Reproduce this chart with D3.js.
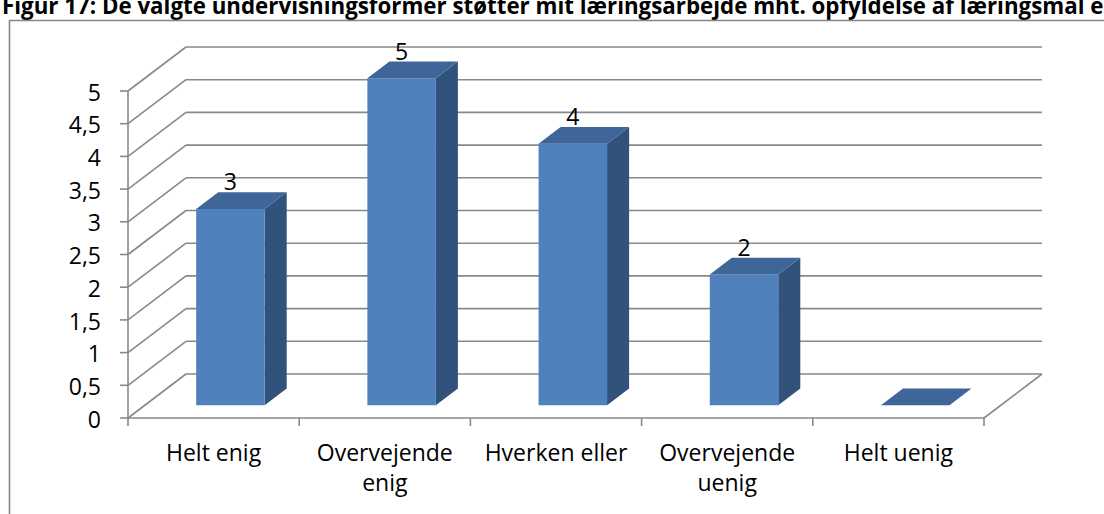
<!DOCTYPE html>
<html>
<head>
<meta charset="utf-8">
<script src="https://cdn.jsdelivr.net/npm/d3@7/dist/d3.min.js"></script>
<style>
  html, body { margin: 0; padding: 0; background: #fff; overflow: hidden; }
  svg { display: block; }
  text { font-family: "Open Sans", "Liberation Sans", sans-serif; fill: #000; }
</style>
</head>
<body>
<svg id="chart" width="1104" height="514"></svg>
<script>
// ---- data ----
const titleText = "Figur 17: De valgte undervisningsformer støtter mit læringsarbejde mht. opfyldelse af læringsmål e";
const categories = ["Helt enig", "Overvejende enig", "Hverken eller", "Overvejende uenig", "Helt uenig"];
const values = [3, 5, 4, 2, 0];
const tickValues = [0, 0.5, 1, 1.5, 2, 2.5, 3, 3.5, 4, 4.5, 5];
const tickLabels = ["0", "0,5", "1", "1,5", "2", "2,5", "3", "3,5", "4", "4,5", "5"];

// ---- layout ----
const W = 1104, H = 514;
const svg = d3.select("#chart");
const front = { left: 128, right: 984, bottom: 418, top: 91 };
const D = { x: 58, y: -44 };         // depth vector of the 3D box
const f1 = 0.29, f2 = 0.67;          // bar front / back depth fractions
const barFrac = 0.40;
const gridColor = "#898989";
const colFront = "#4F81BD", colTop = "#3E6698", colSide = "#31527B";
const fs = "23px";

const x = d3.scaleBand().domain(categories).range([front.left, front.right]).paddingInner(0).paddingOuter(0);
const y = d3.scaleLinear().domain([0, 5]).range([front.bottom, front.top]);

// title
const title = svg.append("text")
  .attr("x", 2).attr("y", 14)
  .style("font-weight", 700).style("font-size", "22px")
  .text(titleText);
(function fit() {
  const len = title.node().getComputedTextLength();
  const target = 1102;
  title.style("font-size", (22 * target / len).toFixed(2) + "px");
})();

// frame
svg.append("path")
  .attr("d", `M${W + 5},20.5 H9.5 V${H + 5}`)
  .attr("fill", "none").attr("stroke", "#868686").attr("stroke-width", 1.6);

// back wall gridlines + side wall diagonals
const g = svg.append("g");
tickValues.forEach(v => {
  const yf = y(v);
  g.append("line")
    .attr("x1", front.left).attr("y1", yf)
    .attr("x2", front.left + D.x).attr("y2", yf + D.y)
    .attr("stroke", gridColor).attr("stroke-width", 1.6);
  g.append("line")
    .attr("x1", front.left + D.x).attr("y1", yf + D.y)
    .attr("x2", front.right + D.x).attr("y2", yf + D.y)
    .attr("stroke", gridColor).attr("stroke-width", 1.6);
});
// floor right edge
g.append("line")
  .attr("x1", front.right).attr("y1", y(0))
  .attr("x2", front.right + D.x).attr("y2", y(0) + D.y)
  .attr("stroke", gridColor).attr("stroke-width", 1.6);

// front value axis
g.append("line")
  .attr("x1", front.left).attr("y1", y(5)).attr("x2", front.left).attr("y2", y(0))
  .attr("stroke", gridColor).attr("stroke-width", 1.6);
tickValues.forEach((v, i) => {
  g.append("line")
    .attr("x1", front.left - 8).attr("y1", y(v)).attr("x2", front.left).attr("y2", y(v))
    .attr("stroke", gridColor).attr("stroke-width", 1.6);
  svg.append("text")
    .attr("x", 101).attr("y", y(v)).attr("dy", "0.42em")
    .attr("text-anchor", "end").style("font-size", fs)
    .text(tickLabels[i]);
});

// category axis
g.append("line")
  .attr("x1", front.left).attr("y1", y(0)).attr("x2", front.right).attr("y2", y(0))
  .attr("stroke", gridColor).attr("stroke-width", 1.6);
const bounds = categories.map(c => x(c)).concat([front.right]);
bounds.forEach(b => {
  g.append("line")
    .attr("x1", b).attr("y1", y(0)).attr("x2", b).attr("y2", y(0) + 8)
    .attr("stroke", gridColor).attr("stroke-width", 1.6);
});

// bars
const bw = x.bandwidth();
const barW = bw * barFrac;
const bars = svg.append("g");
categories.forEach((c, i) => {
  const v = values[i];
  const cx = x(c) + bw / 2;
  const x0 = cx - barW / 2 + f1 * D.x, x1 = x0 + barW;
  const yb = y(0) + f1 * D.y, yt = y(v) + f1 * D.y;
  const dx = (f2 - f1) * D.x, dy = (f2 - f1) * D.y;
  if (v > 0) {
    bars.append("path")
      .attr("d", `M${x1},${yt} L${x1 + dx},${yt + dy} L${x1 + dx},${yb + dy} L${x1},${yb} Z`)
      .attr("fill", colSide);
    bars.append("rect")
      .attr("x", x0).attr("y", yt).attr("width", barW).attr("height", yb - yt)
      .attr("fill", colFront);
  }
  bars.append("path")
    .attr("d", `M${x0},${yt} L${x1},${yt} L${x1 + dx},${yt + dy} L${x0 + dx},${yt + dy} Z`)
    .attr("fill", colTop);
  if (v > 0) {
    svg.append("text")
      .attr("x", (x0 + x1) / 2).attr("y", yt + dy - 2)
      .attr("text-anchor", "middle").style("font-size", fs)
      .text(v);
  }
});

// category labels with wrapping
categories.forEach(c => {
  const t = svg.append("text")
    .attr("text-anchor", "middle").style("font-size", fs);
  const cx = x(c) + bw / 2;
  const words = c.split(" ");
  let lines = [], cur = [];
  const probe = svg.append("text").style("font-size", fs);
  words.forEach(w => {
    const test = cur.concat([w]).join(" ");
    probe.text(test);
    if (cur.length && probe.node().getComputedTextLength() > bw - 4) {
      lines.push(cur.join(" ")); cur = [w];
    } else cur.push(w);
  });
  lines.push(cur.join(" "));
  probe.remove();
  lines.forEach((ln, k) => {
    t.append("tspan").attr("x", cx).attr("y", 461 + k * 30).text(ln);
  });
});
</script>
</body>
</html>
